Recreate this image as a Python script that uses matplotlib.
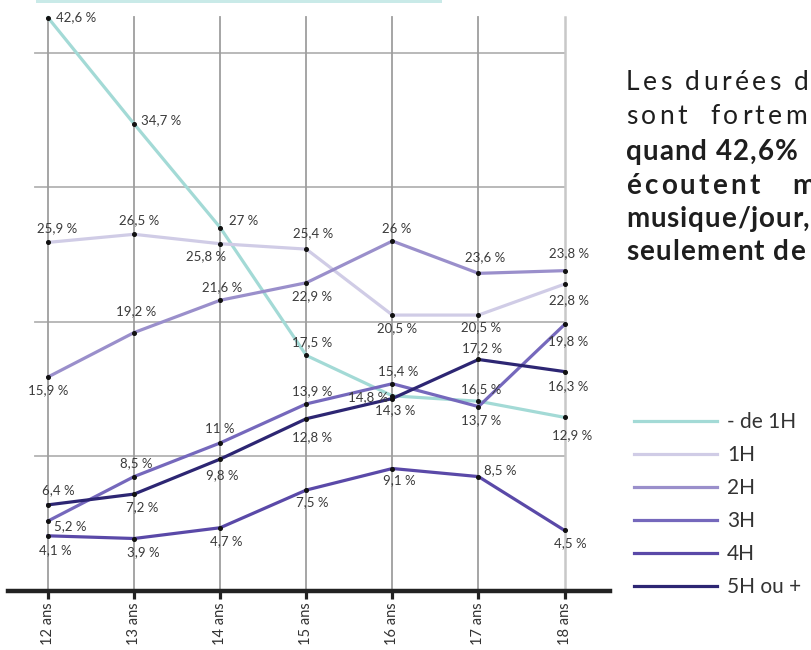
import matplotlib
matplotlib.use('Agg')
import matplotlib.pyplot as plt
from matplotlib.patches import Rectangle
from matplotlib.lines import Line2D
from matplotlib.font_manager import FontProperties

plt.rcParams['font.family'] = ['Lato', 'DejaVu Sans']

# données
ages = ['12 ans', '13 ans', '14 ans', '15 ans', '16 ans', '17 ans', '18 ans']
series_names = ['- de 1H', '1H', '2H', '3H', '4H', '5H ou +']
moins_1h = [42.6, 34.7, 27, 17.5, 14.5, 14.1, 12.9]  # position
h1 = [25.9, 26.5, 25.8, 25.4, 20.5, 20.5, 22.8]
h2 = [15.9, 19.2, 21.6, 22.9, 26, 23.6, 23.8]
h3 = [5.2, 8.5, 11, 13.9, 15.4, 13.7, 19.8]
h4 = [4.1, 3.9, 4.7, 7.5, 9.1, 8.5, 4.5]
h5 = [6.4, 7.2, 9.8, 12.8, 14.3, 17.2, 16.3]
# étiquettes affichées qui ne correspondent pas à la position du point
label_override = {(0, 4): 14.8, (0, 5): 16.5}

colors = ['#a3dad6', '#d0cce6', '#9a8fcb', '#7568bc', '#5a49a8', '#2d2673']

# décalage des étiquettes (px, px vers le bas, alignement)
offsets = [
    [(8, 0, 'left'), (7, -4, 'left'), (9, -7, 'left'), (6, -13, 'center'),
     (-4, 1, 'right'), (3, -12, 'center'), (8, 18, 'center')],
    [(9, -14, 'center'), (5, -14, 'center'), (-14, 12, 'center'), (7, -16, 'center'),
     (5, 13, 'center'), (3, 12, 'center'), (4, 16, 'center')],
    [(0, 13, 'center'), (2, -21, 'center'), (2, -13, 'center'), (6, 13, 'center'),
     (4, -12, 'center'), (7, -16, 'center'), (4, -17, 'center')],
    [(6, 5, 'left'), (2, -13, 'center'), (0, -14, 'center'), (6, -13, 'center'),
     (6, -13, 'center'), (3, 14, 'center'), (4, 17, 'center')],
    [(7, 14, 'center'), (9, 14, 'center'), (6, 13, 'center'), (6, 12, 'center'),
     (7, 12, 'center'), (6, -6, 'left'), (6, 13, 'center')],
    [(10, -15, 'center'), (8, 13, 'center'), (2, 16, 'center'), (6, 18, 'center'),
     (3, 12, 'center'), (4, -11, 'center'), (4, 15, 'center')],
]

all_series = [moins_1h, h1, h2, h3, h4, h5]

fig = plt.figure(figsize=(8.11, 6.5), dpi=100)
ax = fig.add_axes([0, 59 / 650, 1, 591 / 650])
x = list(range(len(ages)))
ax.set_xlim(-48 / 86.1, 763 / 86.1)
ax.set_ylim(0, 591 / 13.46)

for s in ax.spines.values():
    s.set_visible(False)
ax.set_yticks([])

# grille
for yv in [10, 20, 30, 40]:
    ax.plot([-13 / 86.1, 6], [yv, yv], color='#b3b3b3', lw=1.3, zorder=1)
for xi in x:
    c = '#c8c8c8' if xi == 6 else '#9e9e9e'
    ax.plot([xi, xi], [0, 42.65], color=c, lw=1.3 if xi < 6 else 1.8, zorder=1)

# axe du bas
ax.plot([-40 / 86.1, 562 / 86.1], [0, 0], color='#222222', lw=3.2, clip_on=False, zorder=5)
ax.set_xticks(x)
ax.set_xticklabels(ages, rotation=90, fontsize=10.5, color='#333333')
ax.tick_params(axis='x', length=6, width=2.3, color='#222222', pad=2)

order = [1, 2, 3, 4, 5, 0]
for i in order:
    vals = all_series[i]
    ax.plot(x, vals, color=colors[i], lw=2.3, zorder=3 + i * 0.01)
    ax.plot(x, vals, 'o', color='#111111', ms=2.6, zorder=4)
    for j, v in enumerate(vals):
        dx, dy, ha = offsets[i][j]
        shown = label_override.get((i, j), v)
        lab = ('%g' % shown).replace('.', ',') + ' %'
        ax.annotate(lab, (j, v), xytext=(dx * 0.72, -dy * 0.72), textcoords='offset points',
                    ha=ha, va='center', fontsize=9.5, color='#3a3a3a', zorder=6)

handles = [Line2D([], [], color=c, lw=2.3) for c in colors]
leg = ax.legend(handles, series_names, loc='upper left', bbox_to_anchor=(626 / 811, 1 - 404 / 591),
                bbox_transform=ax.transAxes, frameon=False, fontsize=15, handlelength=3.95,
                handletextpad=0.5, labelspacing=0.62, borderaxespad=0)
for t in leg.get_texts():
    t.set_color('#333333')

# bandeau en haut
fig.add_artist(Rectangle((36 / 811, 1 - 3 / 650), 406 / 811, 3 / 650, transform=fig.transFigure,
                         color='#c9eae8', lw=0))

# texte de droite, avec espacement des lettres
renderer = fig.canvas.get_renderer()


def tracked(x_px, y_px, s, size, weight, track):
    prop = FontProperties(family=['Lato', 'DejaVu Sans'], size=size, weight=weight)
    cur = x_px
    for ch in s:
        fig.text(cur / 811, 1 - y_px / 650, ch, fontproperties=prop, color='#1e1e1e',
                 va='baseline', ha='left')
        w, _, _ = renderer.get_text_width_height_descent(ch, prop, ismath=False)
        cur += w + track


lines = [
    ('Les durées d', 'normal', 19, 90, 3.4),
    ('sont  forteme', 'normal', 19, 124, 3.4),
    ('quand 42,6%', 'bold', 20, 160, 1.0),
    ('écoutent   m', 'bold', 20, 194, 3.2),
    ('musique/jour,', 'bold', 20, 227, 0.9),
    ('seulement de', 'bold', 20, 260, 1.2),
]
for txt, w, fs, yb, tr in lines:
    tracked(626, yb, txt, fs, w, tr)

fig.savefig('out.png', dpi=100)
